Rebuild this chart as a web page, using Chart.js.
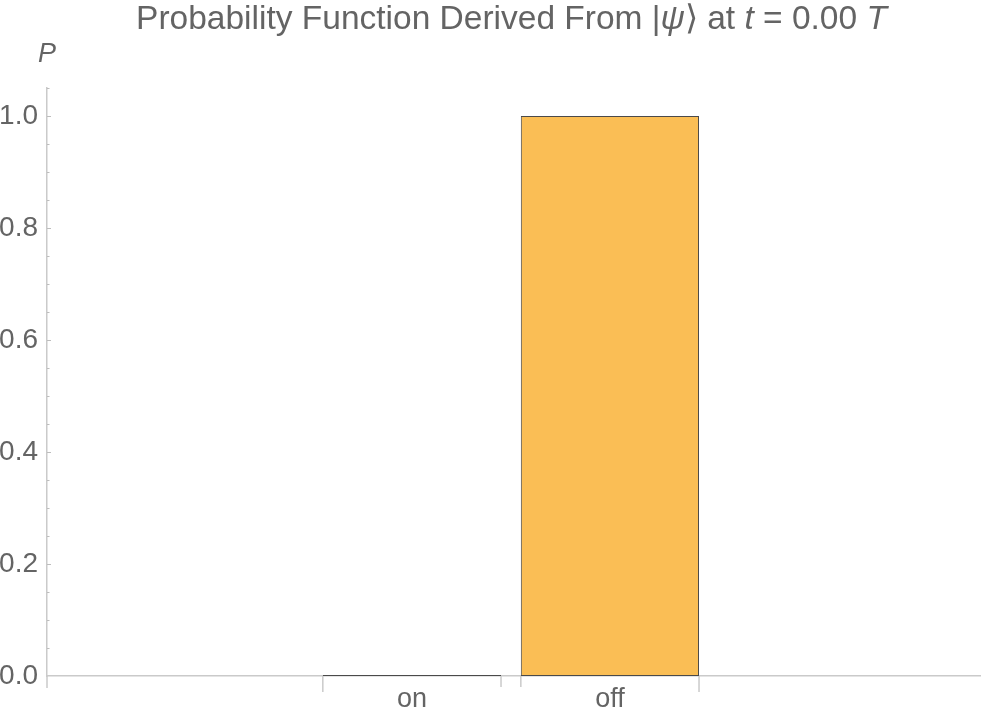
<!DOCTYPE html>
<html><head><meta charset="utf-8">
<script src="https://cdn.jsdelivr.net/npm/chart.js@4.4.1/dist/chart.umd.min.js"></script>
<style>html,body{margin:0;padding:0;background:#fff}#wrap{width:1000px;height:713px;position:relative}</style>
</head><body><div id="wrap"><canvas id="c"></canvas></div>
<script>
// ---- data ----
const categories = ['on', 'off'];
const probabilities = [0, 1.0];
const yTickValues = [0, 0.2, 0.4, 0.6, 0.8, 1.0];
const yRange = [0, 1.05];
const xRange = [-0.843, 3.869];
const titleParts = [
  ['Probability Function Derived From |', false],
  ['ψ', true],
  ['⟩ at ', false],
  ['t', true],
  [' = 0.00 ', false],
  ['T', true]
];
const yAxisTitle = 'P';

// ---- styling ----
const TEXT = '#646464';
const AXIS = '#cacaca';
const FONT = "'Liberation Sans', Arial, sans-serif";
const xPositions = categories.map((c, i) => i + 1);

const decorations = {
  id: 'decorations',
  afterDraw(chart) {
    const ctx = chart.ctx, ca = chart.chartArea, ys = chart.scales.y;
    ctx.save();
    // inward y ticks (major + minor)
    ctx.strokeStyle = '#bdbdbd';
    ctx.lineWidth = 1;
    const n = Math.round(yRange[1] / 0.05);
    for (let k = 1; k <= n; k++) {
      const py = Math.round(ys.getPixelForValue(k * 0.05)) + 0.5;
      const major = k % 4 === 0;
      ctx.beginPath();
      ctx.moveTo(ca.left, py);
      ctx.lineTo(ca.left + (major ? 4 : 2.5), py);
      ctx.stroke();
    }
    // x tick marks at bar edges, and the axis extension below the origin
    ctx.strokeStyle = AXIS;
    ctx.lineWidth = 1.5;
    const meta = chart.getDatasetMeta(0);
    const marks = [[ca.left, 12]];
    meta.data.forEach((bar, i) => {
      const p = bar.getProps(['x', 'width'], true);
      marks.push([p.x - p.width / 2, i === 0 ? 16 : 11]);
      marks.push([p.x + p.width / 2, i === meta.data.length - 1 ? 16 : 11]);
    });
    marks.forEach(([x, len]) => {
      ctx.beginPath();
      ctx.moveTo(x, ca.bottom);
      ctx.lineTo(x, ca.bottom + len);
      ctx.stroke();
    });
    // title with italic parts
    ctx.fillStyle = TEXT;
    ctx.textBaseline = 'alphabetic';
    ctx.textAlign = 'left';
    const size = 33.5;
    const fontFor = it => (it ? 'italic ' : '') + size + 'px ' + FONT;
    let total = 0;
    titleParts.forEach(([s, it]) => { ctx.font = fontFor(it); total += ctx.measureText(s).width; });
    let x = (ca.left + ca.right) / 2 - 2 - total / 2;
    titleParts.forEach(([s, it]) => {
      ctx.font = fontFor(it);
      ctx.fillText(s, x, 29);
      x += ctx.measureText(s).width;
    });
    // y axis title
    ctx.font = 'italic 27px ' + FONT;
    ctx.textAlign = 'center';
    ctx.fillText(yAxisTitle, ca.left, 62);
    ctx.restore();
  }
};

new Chart(document.getElementById('c'), {
  type: 'bar',
  data: {
    datasets: [{
      data: xPositions.map((x, i) => ({ x: x, y: probabilities[i] })),
      backgroundColor: '#FABE55',
      borderColor: '#4a4a4a',
      borderWidth: 1,
      borderSkipped: false,
      minBarLength: 1,
      categoryPercentage: 1.0,
      barPercentage: 0.9
    }]
  },
  options: {
    responsive: true,
    maintainAspectRatio: false,
    animation: false,
    layout: { padding: { top: 88, right: 20, bottom: 0, left: 0 } },
    plugins: { legend: { display: false }, title: { display: false }, tooltip: { enabled: false } },
    scales: {
      x: {
        type: 'linear',
        offset: false,
        min: xRange[0],
        max: xRange[1],
        afterBuildTicks: s => { s.ticks = xPositions.map(v => ({ value: v })); },
        afterFit: s => { s.height = 37; },
        ticks: {
          color: TEXT,
          padding: 10,
          maxRotation: 0,
          autoSkip: false,
          font: { family: FONT, size: 27, lineHeight: 1 },
          callback: v => categories[xPositions.indexOf(v)] ?? ''
        },
        grid: { display: false, drawTicks: false },
        border: { display: true, color: AXIS, width: 1.5 }
      },
      y: {
        min: yRange[0],
        max: yRange[1],
        afterBuildTicks: s => { s.ticks = yTickValues.map(v => ({ value: v })); },
        afterFit: s => { s.width = 47; },
        ticks: {
          color: TEXT,
          padding: 9,
          font: { family: FONT, size: 28, lineHeight: 1 },
          callback: v => Number(v).toFixed(1)
        },
        grid: { display: false, drawTicks: false },
        border: { display: true, color: AXIS, width: 1.5 }
      }
    }
  },
  plugins: [decorations]
});
</script>
</body></html>
